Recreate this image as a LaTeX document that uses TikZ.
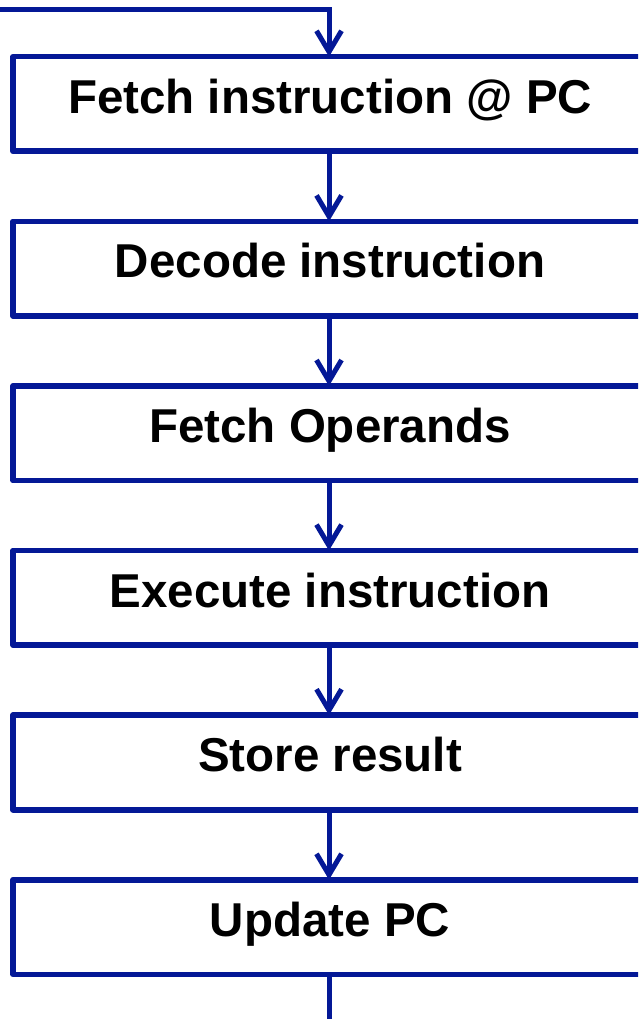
\documentclass[tikz,border=0pt]{standalone}
\usepackage{fontspec}
\setmainfont{Liberation Sans}
\usetikzlibrary{arrows.meta}
\definecolor{flowblue}{RGB}{4,24,150}
\tikzset{
  stagebox/.style={draw=flowblue, line width=5.6pt, line join=round,
    minimum width=634pt, minimum height=94.6pt, inner sep=0pt, outer sep=0pt,
    text height=34pt, text depth=15.6pt,
    font=\bfseries\fontsize{47.5}{56}\selectfont},
  flow/.style={draw=flowblue, line width=5pt,
    -{Straight Barb[length=21pt,width=25pt,line width=5pt]}},
  wire/.style={draw=flowblue, line width=5pt}
}
\begin{document}
\begin{tikzpicture}[x=1pt,y=-1pt]
  \useasboundingbox (0,0) rectangle (638,1019);
  \begin{scope}
    \clip (0,0) rectangle (638,1019);
    \node[stagebox] (fetch)   at (330,104)   {Fetch instruction @ PC};
    \node[stagebox] (decode)  at (330,268.6) {Decode instruction};
    \node[stagebox] (operand) at (330,433.2) {Fetch Operands};
    \node[stagebox] (exec)    at (330,597.8) {Execute instruction};
    \node[stagebox] (store)   at (330,762.4) {Store result};
    \node[stagebox] (update)  at (330,927)   {Update PC};

    % loop-back wire entering from the left edge
    \coordinate (loopin) at (-5,10);
    \coordinate (loopbend) at (329,10);
    \coordinate (loopout) at (329,1025);
    \draw[flow] (loopin) -- (loopbend) -- (loopbend |- fetch.north);

    \draw[flow] (fetch.south -| loopbend) -- (decode.north -| loopbend);
    \draw[flow] (decode.south -| loopbend) -- (operand.north -| loopbend);
    \draw[flow] (operand.south -| loopbend) -- (exec.north -| loopbend);
    \draw[flow] (exec.south -| loopbend) -- (store.north -| loopbend);
    \draw[flow] (store.south -| loopbend) -- (update.north -| loopbend);
    \draw[wire] (update.south -| loopbend) -- (loopout);
  \end{scope}
\end{tikzpicture}
\end{document}
